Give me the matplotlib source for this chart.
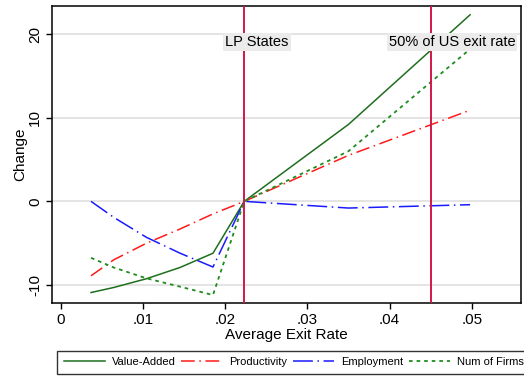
import numpy as np
import matplotlib
matplotlib.use('Agg')
import matplotlib.pyplot as plt

plt.rcParams['font.family'] = ['Liberation Sans', 'DejaVu Sans']

# Simulated change by average exit rate
exit_low = [0.00365, 0.0064, 0.0104, 0.0145, 0.0185, 0.0223]
exit_high = [0.0223, 0.035, 0.0498]

value_added_low = [-10.9, -10.3, -9.25, -7.9, -6.2, 0.0]
value_added_high = [0.0, 9.2, 22.3]

productivity_low = [-8.9, -7.0, -5.0, -3.3, -1.5, 0.0]
productivity_high = [0.0, 5.5, 10.9]

employment_low = [0.0, -1.9, -4.3, -6.2, -7.85, 0.0]
employment_high = [0.0, -0.8, -0.4]

firms_low = [-6.75, -7.9, -9.2, -10.2, -11.2, 0.0]
firms_high = [0.0, 6.0, 18.2]

lp_states = 0.0223
us_half = 0.045

xticks = [0, 0.01, 0.02, 0.03, 0.04, 0.05]
xticklabels = ['0', '.01', '.02', '.03', '.04', '.05']
yticks = [-10, 0, 10, 20]


def main():
    fig = plt.figure(figsize=(5.24, 3.77), dpi=100)
    ax = fig.add_axes([0.0992, 0.1963, 0.8951, 0.7877])

    for y in yticks:
        ax.axhline(y, color='#dcdcdc', lw=1.1, zorder=0)

    x = exit_low + exit_high[1:]
    va = value_added_low + value_added_high[1:]
    pr = productivity_low + productivity_high[1:]
    em = employment_low + employment_high[1:]
    nf = firms_low + firms_high[1:]

    ax.plot(x, va, color='#1e6e1e', lw=1.1, label='Value-Added')
    ax.plot(x, pr, color='#ff1a1a', lw=1.1, dashes=(9, 3, 1, 3),
            label='Productivity')
    ax.plot(x, em, color='#1a1aff', lw=1.1, dashes=(13, 3, 1, 3),
            label='Employment')
    ax.plot(x, nf, color='#1e8c1e', lw=1.3, dashes=(2, 2.2),
            label='Num of Firms')

    ax.axvline(lp_states, color='#d3174a', lw=1.4, zorder=3)
    ax.axvline(us_half, color='#d3174a', lw=1.4, zorder=3)

    box = dict(facecolor='#ebebeb', edgecolor='none', pad=1.5)
    ax.text(0.02, 19.1, 'LP States', fontsize=10.5, va='center', ha='left',
            bbox=box, zorder=4)
    ax.text(0.0399, 19.1, '50% of US exit rate', fontsize=10.5,
            va='center', ha='left', bbox=box, zorder=4)

    ax.set_xlim(-0.0011, 0.056)
    ax.set_ylim(-12.15, 23.35)
    ax.set_xticks(xticks)
    ax.set_xticklabels(xticklabels)
    ax.set_yticks(yticks)
    ax.set_yticklabels([str(v) for v in yticks], rotation=90, va='center')
    ax.tick_params(direction='out', length=4, width=1, labelsize=11, pad=3)

    for s in ax.spines.values():
        s.set_linewidth(1.1)

    ax.set_xlabel('Average Exit Rate', fontsize=11, labelpad=1)
    ax.set_ylabel('Change', fontsize=11, labelpad=1)

    # legend row along the bottom, boxed
    leg = fig.legend(loc='lower left', ncol=4, fontsize=8,
                     bbox_to_anchor=(0.1088, 0.008),
                     handlelength=3.7, handletextpad=0.6,
                     columnspacing=0.55, borderaxespad=0, frameon=True,
                     fancybox=False, borderpad=0.6)
    leg.get_frame().set_edgecolor('black')
    leg.get_frame().set_linewidth(1.0)

    fig.savefig('out.png', dpi=100)


if __name__ == "__main__":
    main()
